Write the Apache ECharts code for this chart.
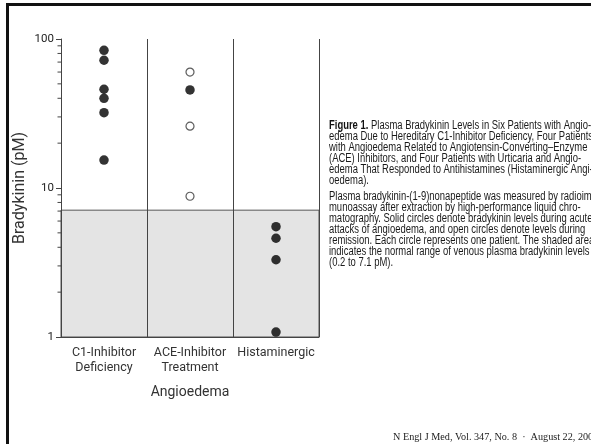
<!DOCTYPE html>
<html>
<head>
<meta charset="utf-8">
<script src="https://cdn.jsdelivr.net/npm/echarts@6/dist/echarts.min.js"></script>
<style>
  html, body { margin: 0; padding: 0; background: #fff; }
  #chart { width: 591px; height: 444px; }
</style>
</head>
<body>
<div id="chart"></div>
<script>
// ---- data ----
const categories = ['C1-Inhibitor\nDeficiency', 'ACE-Inhibitor\nTreatment', 'Histaminergic'];
const c1Acute = [84, 72, 46, 40, 32, 15.4];
const aceAcute = [45.5];
const aceRemission = [60, 26, 8.8];
const histAcute = [5.5, 4.6, 3.3, 1.08];
const normalRange = [1, 7.1];
const yTickLabels = ['1', '10', '100'];
const minorTickValues = [2, 3, 4, 5, 6, 7, 8, 9, 20, 30, 40, 50, 60, 70, 80, 90];
const yAxisTitle = 'Bradykinin (pM)';
const xAxisTitle = 'Angioedema';
const captionPara1 = [
  '{b|Figure 1.} Plasma Bradykinin Levels in Six Patients with Angio-',
  'edema Due to Hereditary C1-Inhibitor Deficiency, Four Patients',
  'with Angioedema Related to Angiotensin-Converting\u2013Enzyme',
  '(ACE) Inhibitors, and Four Patients with Urticaria and Angio-',
  'edema That Responded to Antihistamines (Histaminergic Angi-',
  'oedema).'
];
const captionPara2 = [
  'Plasma bradykinin-(1-9)nonapeptide was measured by radioim-',
  'munoassay after extraction by high-performance liquid chro-',
  'matography. Solid circles denote bradykinin levels during acute',
  'attacks of angioedema, and open circles denote levels during',
  'remission. Each circle represents one patient. The shaded area',
  'indicates the normal range of venous plasma bradykinin levels',
  '(0.2 to 7.1 pM).'
];
const footer = 'N Engl J Med, Vol. 347, No. 8  \u00b7  August 22, 2002';

// ---- build ----
const acuteData = [];
c1Acute.forEach(v => acuteData.push([0, v]));
aceAcute.forEach(v => acuteData.push([1, v]));
histAcute.forEach(v => acuteData.push([2, v]));
const remissionData = aceRemission.map(v => [1, v]);

const sansFont = 'Roboto, "Liberation Sans", Arial, sans-serif';
const capFontFamily = '"Liberation Sans", Arial, sans-serif';
const capSize = 12.5;

// horizontal condensing factor so caption matches the narrow typeface width
const measureCtx = document.createElement('canvas').getContext('2d');
measureCtx.font = capSize + 'px ' + capFontFamily;
const refWidth = measureCtx.measureText('edema Due to Hereditary C1-Inhibitor Deficiency, Four Patients').width;
const capScale = 264 / refWidth;

const graphics = [];
graphics.push({
  type: 'rect', silent: true, z: 100,
  shape: { x: 7.5, y: 4.5, width: 700, height: 600 },
  style: { fill: 'none', stroke: '#111', lineWidth: 3 }
});
const capX = 329, capY1 = 126, capStep = 11, capY2 = 197;
function capText(t, y) {
  return {
    type: 'text', silent: true,
    x: capX, y: y, scaleX: capScale, originX: 0, originY: 0,
    style: {
      text: t, x: 0, y: 0, fill: '#1a1a1a',
      fontFamily: capFontFamily, fontSize: capSize, verticalAlign: 'middle',
      rich: { b: { fontWeight: 'bold', fontFamily: capFontFamily, fontSize: capSize, fill: '#111' } }
    }
  };
}
captionPara1.forEach((t, i) => graphics.push(capText(t, capY1 + i * capStep)));
captionPara2.forEach((t, i) => graphics.push(capText(t, capY2 + i * capStep)));
graphics.push({
  type: 'text', silent: true,
  style: {
    text: footer, x: 393, y: 437, fill: '#222',
    fontFamily: '"Liberation Serif", "DejaVu Serif", serif', fontSize: 10.2, verticalAlign: 'middle'
  }
});

const chart = echarts.init(document.getElementById('chart'));
chart.setOption({
  animation: false,
  backgroundColor: '#fff',
  grid: { left: 61, top: 39, width: 258, height: 298 },
  xAxis: {
    type: 'category',
    z: 10,
    data: categories,
    boundaryGap: true,
    axisLine: { show: true, lineStyle: { color: '#444', width: 1 } },
    axisTick: { show: false },
    splitLine: { show: true, lineStyle: { color: '#444', width: 1 } },
    axisLabel: { color: '#333', fontFamily: sansFont, fontSize: 12.5, lineHeight: 15, margin: 8, interval: 0 },
    name: xAxisTitle,
    nameLocation: 'middle',
    nameGap: 48,
    nameTextStyle: { color: '#333', fontFamily: sansFont, fontSize: 14 }
  },
  yAxis: {
    type: 'log',
    z: 10,
    logBase: 10,
    min: 1,
    max: 100,
    axisLine: { show: true, lineStyle: { color: '#444', width: 1 } },
    axisTick: { show: true, length: 5, lineStyle: { color: '#444' } },
    splitLine: { show: false },
    axisLabel: {
      color: '#222', fontFamily: sansFont, fontSize: 11.5, margin: 7,
      formatter: v => {
        const idx = Math.round(Math.log10(v));
        return yTickLabels[idx] !== undefined ? yTickLabels[idx] : '';
      }
    },
    name: yAxisTitle,
    nameLocation: 'middle',
    nameGap: 33,
    nameRotate: 90,
    nameTextStyle: { color: '#333', fontFamily: sansFont, fontSize: 16 }
  },
  graphic: graphics,
  series: [
    {
      type: 'scatter',
      silent: true,
      symbolSize: 0,
      data: [],
      z: 1,
      markArea: {
        silent: true,
        itemStyle: { color: '#e4e4e4', borderColor: '#555', borderWidth: 1 },
        data: [[{ yAxis: normalRange[0] }, { yAxis: normalRange[1] }]]
      }
    },
    {
      type: 'custom',
      z: 20,
      clip: false,
      silent: true,
      data: minorTickValues.map(v => [0, v]),
      renderItem: (params, api) => {
        const pt = api.coord([0, api.value(1)]);
        const x0 = params.coordSys.x;
        return {
          type: 'line',
          shape: { x1: x0 - 3.5, y1: pt[1], x2: x0, y2: pt[1] },
          style: { stroke: '#444', lineWidth: 1 }
        };
      }
    },
    {
      name: 'Acute',
      type: 'scatter',
      symbol: 'circle',
      symbolSize: 9.5,
      itemStyle: { color: '#000' },
      data: acuteData,
      z: 5
    },
    {
      name: 'Remission',
      type: 'scatter',
      symbol: 'circle',
      symbolSize: 8,
      itemStyle: { color: '#fff', borderColor: '#333', borderWidth: 1.2 },
      data: remissionData,
      z: 5
    }
  ]
});
</script>
</body>
</html>
